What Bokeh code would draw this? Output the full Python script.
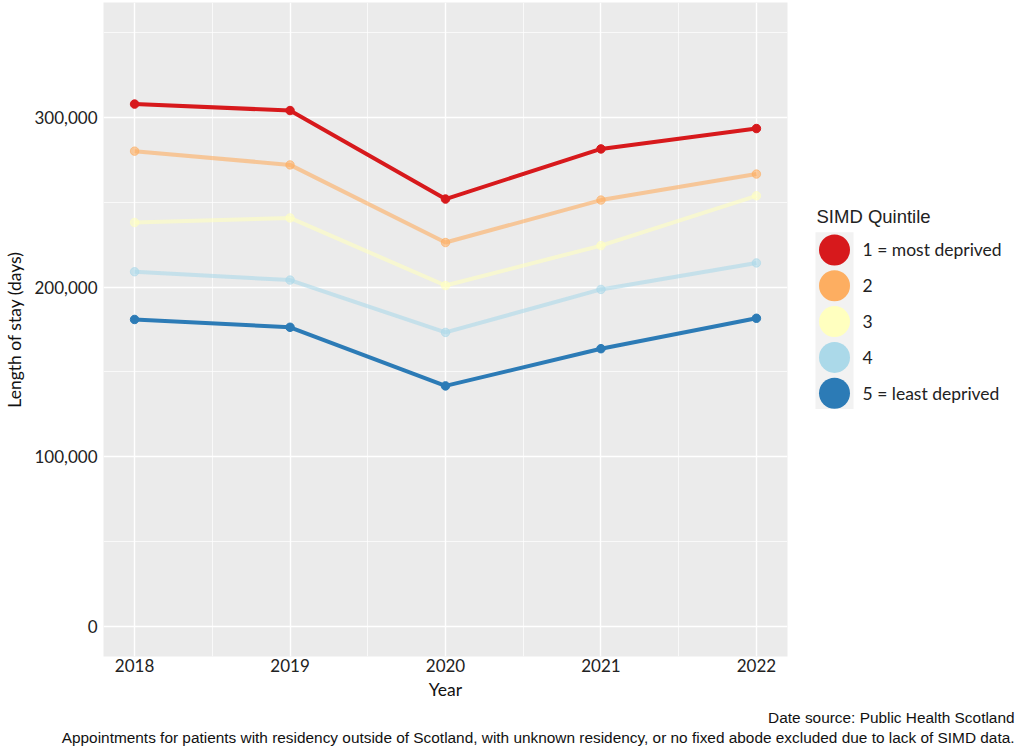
from bokeh.plotting import figure
from bokeh.models import Range1d, FixedTicker, NumeralTickFormatter
from bokeh.layouts import row, column
from bokeh.core.properties import value
from bokeh.embed import file_html
from bokeh.resources import INLINE

years = [2018, 2019, 2020, 2021, 2022]
q1 = [307700, 303900, 251800, 281300, 293300]
q2 = [280000, 271900, 226200, 251200, 266500]
q3 = [238000, 240700, 200900, 224400, 253700]
q4 = [209000, 204100, 173300, 198600, 214200]
q5 = [180900, 176300, 141800, 163700, 181600]
series = [q1, q2, q3, q4, q5]
labels = ["1 = most deprived", "2", "3", "4", "5 = least deprived"]
colors = ["#D7191C", "#FDAE61", "#FFFFBF", "#ABD9E9", "#2C7BB6"]
alphas = [1.0, 0.6, 0.6, 0.6, 1.0]
y_ticks = [0, 100000, 200000, 300000]
y_minor = [50000, 150000, 250000, 350000]
x_minor = [2018.5, 2019.5, 2020.5, 2021.5]

GEO = "Lato"
ARIAL = "Liberation Sans"

p = figure(width=795, height=703, x_range=Range1d(2017.8, 2022.2),
           y_range=Range1d(-17500, 367500), output_backend="svg",
           toolbar_location=None, min_border_left=103, min_border_right=8,
           min_border_top=2, min_border_bottom=47)
p.background_fill_color = "#EBEBEB"
p.border_fill_color = "white"
p.outline_line_color = None

p.xaxis.ticker = FixedTicker(ticks=years, minor_ticks=x_minor)
p.yaxis.ticker = FixedTicker(ticks=y_ticks, minor_ticks=y_minor)
p.yaxis.formatter = NumeralTickFormatter(format="0,0")
for ax in (p.xaxis[0], p.yaxis[0]):
    ax.axis_line_color = None
    ax.major_tick_line_color = None
    ax.minor_tick_line_color = None
    ax.major_tick_out = 0
    ax.major_tick_in = 0
    ax.minor_tick_out = 0
    ax.minor_tick_in = 0
    ax.major_label_text_font = GEO
    ax.major_label_text_font_size = "17px"
    ax.major_label_text_color = "#222222"
    ax.axis_label_text_font = GEO
    ax.axis_label_text_font_size = "17.5px"
    ax.axis_label_text_font_style = "normal"
    ax.axis_label_text_color = "#111111"
p.xaxis.axis_label = "Year"
p.yaxis.axis_label = "Length of stay (days)"
p.xaxis.major_label_standoff = 2
p.xaxis.axis_label_standoff = 4
p.yaxis.major_label_standoff = 6
p.yaxis.axis_label_standoff = 6

for g in (p.xgrid[0], p.ygrid[0]):
    g.grid_line_color = "white"
    g.grid_line_width = 1.4
    g.minor_grid_line_color = "white"
    g.minor_grid_line_width = 0.7

for vals, c, a in zip(series, colors, alphas):
    p.line(years, vals, line_color=c, line_alpha=a, line_width=4)
    p.scatter(years, vals, size=8.5, fill_color=c, line_color=c,
              fill_alpha=a, line_alpha=a)

# legend panel
leg = figure(width=220, height=703, x_range=Range1d(0, 220), y_range=Range1d(703, 0),
             output_backend="svg", toolbar_location=None, min_border=0)
leg.axis.visible = False
leg.grid.visible = False
leg.outline_line_color = None
leg.background_fill_color = "white"
leg.border_fill_color = "white"

step = 38.5
y0 = 266
ys = [y0 + i * step for i in range(len(labels))]
leg.quad(left=[20], right=[58], top=[y0 - 19], bottom=[ys[-1] + 17],
         fill_color="#F2F2F2", line_color=None)
leg.scatter(x=[39] * len(labels), y=ys, size=31, fill_color=colors, line_color=None)
leg.text(x=[67] * len(labels), y=ys, text=labels, text_font=value(GEO),
         text_font_size=value("17.5px"), text_baseline="middle", text_color="#222222")
leg.text(x=[21], y=[230], text=["SIMD Quintile"], text_font=value(ARIAL),
         text_font_size=value("18.5px"), text_baseline="middle", text_color="#222222")

# caption panel
cap = figure(width=1015, height=45, x_range=Range1d(0, 1015), y_range=Range1d(45, 0),
             output_backend="svg", toolbar_location=None, min_border=0)
cap.axis.visible = False
cap.grid.visible = False
cap.outline_line_color = None
cap.background_fill_color = "white"
cap.border_fill_color = "white"
captions = ["Date source: Public Health Scotland",
            "Appointments for patients with residency outside of Scotland, with unknown residency, or no fixed abode excluded due to lack of SIMD data."]
cap.text(x=[1014, 1014], y=[14, 34], text=captions, text_font=value(ARIAL),
         text_font_size=value("15.4px"), text_align="right", text_baseline="middle",
         text_color="#111111")

layout = column(row(p, leg), cap)
open("out.html", "w").write(file_html(layout, INLINE))
